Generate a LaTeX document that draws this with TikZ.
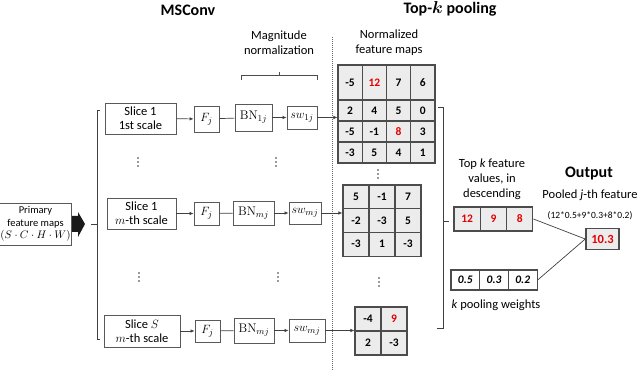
\documentclass[tikz,border=0pt]{standalone}
\usepackage{fontspec}
\setmainfont{Carlito}
\usetikzlibrary{arrows.meta}

\newcommand{\bnorm}{\mbox{\fontfamily{lmr}\selectfont BN}}

\tikzset{
  box/.style={draw=black!65, line width=0.8pt, fill=white, inner sep=1pt, align=center,
    font=\fontsize{12.5}{14}\selectfont},
  cell/.style={draw=black!70, line width=1.1pt, fill=gray!15, inner sep=0pt,
    font=\fontsize{11.5}{12}\selectfont\bfseries},
  hot/.style={text=red!90!black},
  cold/.style={},
  conn/.style={draw=black!75, line width=0.7pt},
  arr/.style={conn, -{Latex[length=4pt,width=3.5pt]}},
  txt/.style={align=center, font=\fontsize{12.5}{15}\selectfont},
  head/.style={font=\fontsize{16}{18}\selectfont\bfseries},
}

\begin{document}
\begin{tikzpicture}[x=1pt, y=-1pt]
  \useasboundingbox (0,0) rectangle (640,371);

  % titles
  \node[head] (msconv) at (188,10) {MSConv};
  \node[head] (topk) at (450,9) {Top-{\boldmath$k$} pooling};
  \node[txt] (magnorm) at (279,43) {Magnitude\\normalization};
  \node[txt] (normfm) at (389,43) {Normalized\\feature maps};
  \draw[black!70, line width=0.7pt] (241,80) -- (241,75) -- (317,75) -- (317,80);
  \draw[black!70, line width=0.7pt] (279,75) -- (279,72);
  \draw[black!60, line width=0.8pt, dash pattern=on 1pt off 1pt] (332,37) -- (332,371);

  % input
  \node[box, minimum width=67pt, minimum height=42pt, font=\fontsize{10.5}{12.5}\selectfont]
    (input) at (35.5,224) {Primary\\feature maps\\$(S\cdot C\cdot H\cdot W)$};
  \fill[black!90] (72,216) -- (78,216) -- (78,212) -- (85,224) -- (78,237) -- (78,232)
    -- (72,232) -- cycle;
  \draw[conn] (100,110) -- (97,110) -- (97,339) -- (100,339);
  \draw[conn] (91,224) -- (97,224);

  % slice 1, 1st scale
  \node[box, minimum width=71pt, minimum height=31pt] (s1) at (140.5,118.5) {Slice 1\\1st scale};
  \node[box, minimum width=25pt, minimum height=26pt] (f1) at (206.5,119) {$F_j$};
  \node[box, minimum width=37pt, minimum height=27pt] (bn1) at (253.5,117.5) {$\bnorm_{1j}$};
  \node[box, minimum width=30pt, minimum height=23pt] (sw1) at (302,117.5) {$sw_{1j}$};

  % slice 1, m-th scale
  \node[box, minimum width=69pt, minimum height=31pt] (s2) at (141.5,213.5) {Slice 1\\$m$-th scale};
  \node[box, minimum width=25pt, minimum height=23pt] (f2) at (206.5,213.5) {$F_j$};
  \node[box, minimum width=41pt, minimum height=24pt] (bn2) at (253.5,213) {$\bnorm_{mj}$};
  \node[box, minimum width=32pt, minimum height=22pt] (sw2) at (305,213) {$sw_{mj}$};

  % slice S, m-th scale
  \node[box, minimum width=76pt, minimum height=32pt] (s3) at (142,331) {Slice $S$\\$m$-th scale};
  \node[box, minimum width=25pt, minimum height=22pt] (f3) at (207.5,331) {$F_j$};
  \node[box, minimum width=40pt, minimum height=25pt] (bn3) at (254,330.5) {$\bnorm_{mj}$};
  \node[box, minimum width=36pt, minimum height=23pt] (sw3) at (307,330.5) {$sw_{mj}$};

  % vertical dots
  \foreach \x/\y in {138/162, 276/162, 139/277, 278/277, 378/174, 379/282}
    \foreach \k in {-4,0,4}
      \fill[black!80] (\x,\y+\k) circle (0.9pt);

  % normalized feature maps
  \foreach \row/\yc/\h [count=\r] in {{-5/cold,12/hot,7/cold,6/cold}/82.5/35,
      {2/cold,4/cold,5/cold,0/cold}/110.5/21, {-5/cold,-1/cold,8/hot,3/cold}/131.5/21,
      {-3/cold,5/cold,4/cold,1/cold}/152.5/21}
    \foreach \v/\s [count=\c] in \row
      \node[cell, \s, minimum width=24.25pt, minimum height=\h pt]
        (fmA-\r-\c) at (325.875+24.25*\c, \yc) {\v};
  \foreach \row [count=\r] in {{5,-1,7}, {-2,-3,5}, {-3,1,-3}}
    \foreach \v [count=\c] in \row
      \node[cell, minimum width=26pt, minimum height=23.7pt]
        (fmB-\r-\c) at (330+26*\c, 173.15+23.7*\r) {\v};
  \foreach \row [count=\r] in {{-4/cold,9/hot}, {2/cold,-3/cold}}
    \foreach \v/\s [count=\c] in \row
      \node[cell, \s, minimum width=26pt, minimum height=24pt]
        (fmC-\r-\c) at (342+26*\c, 295+24*\r) {\v};

  % arrows
  \draw[arr] (s1) -- (f1);
  \draw[conn] (f1) -- (bn1);
  \draw[arr] (bn1) -- (sw1);
  \draw[arr] (sw1.east) -- (sw1.east -| fmA-2-1.west);
  \draw[arr] (s2) -- (f2);
  \draw[conn] (f2) -- (bn2);
  \draw[arr] (bn2) -- (sw2);
  \draw[arr] (sw2.east) -- (sw2.east -| fmB-2-1.west);
  \draw[arr] (s3) -- (f3);
  \draw[conn] (f3) -- (bn3);
  \draw[arr] (bn3) -- (sw3);
  \draw[arr] (sw3.east) -- (sw3.east -| fmC-2-1.west);

  % top-k
  \draw[conn] (438,107) -- (443,107) -- (443,328) -- (437,328);
  \draw[conn] (443,221) -- (449,221);
  \node[txt] (toptxt) at (492,179) {Top \textit{k} feature\\values, in\\descending};
  \foreach \v [count=\c] in {12,9,8}
    \node[cell, hot, minimum width=26.3pt, minimum height=24pt]
      (vals-\c) at (440.85+26.3*\c, 219) {\v};
  \foreach \v [count=\c] in {0.5,0.3,0.2}
    \node[cell, fill=white, minimum width=28.7pt, minimum height=20pt,
      font=\fontsize{11.5}{12}\selectfont\bfseries\itshape]
      (wts-\c) at (436.65+28.7*\c, 280) {\v};
  \node[txt] (wtxt) at (496,305) {\textit{k} pooling weights};

  % output
  \node[head] (outtitle) at (589,174) {Output};
  \node[txt] (pooled) at (590,195) {Pooled \textit{j}-th feature};
  \node[font=\fontsize{9.5}{11}\selectfont] (formula) at (590,216) {(12*0.5+9*0.3+8*0.2)};
  \node[cell, hot, line width=1.5pt, minimum width=33pt, minimum height=21pt,
    font=\fontsize{12.5}{13}\selectfont\bfseries] (out) at (602.5,239) {10.3};
  \draw[conn] (vals-3.east) -- (out.west);
  \draw[conn] (wts-3.east) -- (out.west);
\end{tikzpicture}
\end{document}
